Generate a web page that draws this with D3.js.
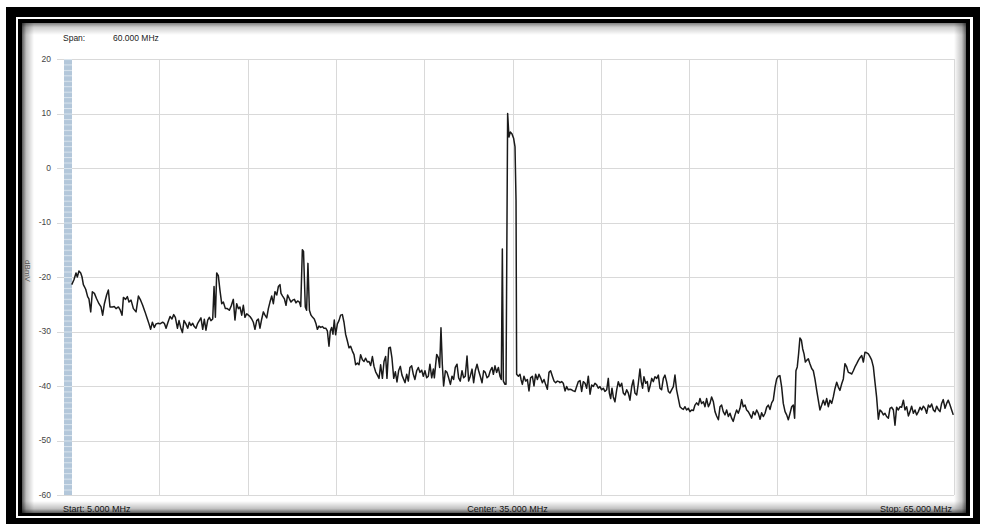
<!DOCTYPE html>
<html><head><meta charset="utf-8">
<script src="https://cdn.jsdelivr.net/npm/d3@7"></script>
<style>body{margin:0;background:#fff}svg{display:block}text{font-family:"Liberation Sans",Arial,sans-serif}</style>
</head><body><svg id="c" width="981" height="528"></svg>
<script>
// ---- data ----
const yTicks = [20, 10, 0, -10, -20, -30, -40, -50, -60];
const xGridMHz = [5, 11, 17, 23, 29, 35, 41, 47, 53, 59, 65];
const spanText = ["Span:", "60.000 MHz"];
const freqLabels = ["Start: 5.000 MHz", "Center: 35.000 MHz", "Stop: 65.000 MHz"];
const yTitle = "dBmV";
// sweep: [frequency MHz, level dBmV]
const sweepLow = [[5.05,-21.4],[5.20,-20.5],[5.34,-19.25],[5.43,-20],[5.54,-18.9],[5.66,-19.25],[5.75,-20],[5.84,-21.4],[6.00,-22.25],[6.13,-23.6],[6.22,-24],[6.34,-26.4],[6.45,-22.7],[6.59,-23],[6.74,-24],[6.90,-24.9],[7.04,-25.5],[7.15,-27],[7.27,-24.9],[7.42,-23.3],[7.54,-22.4],[7.65,-25.5],[7.81,-25.5],[7.94,-25.4],[8.06,-25.8],[8.22,-25.5],[8.35,-26.1],[8.47,-27],[8.56,-23.75],[8.71,-24.1],[8.83,-23.6],[8.94,-24.6],[9.08,-24.25],[9.24,-25.8],[9.42,-26.4],[9.58,-23.5],[9.73,-24.25],[9.87,-25.2],[10.03,-26.4],[10.19,-27.7],[10.30,-28.6],[10.41,-29.6],[10.53,-28.3],[10.66,-29.25],[10.78,-28.6],[10.93,-28.5],[11.05,-28.6],[11.23,-28.3],[11.34,-28.5],[11.46,-29.4],[11.59,-28.3],[11.73,-27.25],[11.86,-27.7],[11.98,-26.9],[12.09,-27.4],[12.23,-29.4],[12.34,-28],[12.45,-29.25],[12.57,-30.2],[12.68,-28],[12.81,-28.6],[12.93,-29.4],[13.04,-28.3],[13.15,-28.9],[13.27,-28.5],[13.38,-29.1],[13.49,-29.4],[13.61,-28.5],[13.72,-28],[13.83,-27.5],[13.95,-29.6],[14.06,-27.75],[14.17,-29.75],[14.29,-27.9],[14.40,-27.4],[14.51,-28],[14.63,-27.7],[14.72,-21.75],[14.81,-27.4],[14.90,-19.25],[15.01,-19.75],[15.12,-22.4],[15.24,-24.9],[15.35,-24.6],[15.49,-25.8],[15.62,-25.8],[15.76,-26.1],[15.90,-25.2],[16.03,-24.1],[16.14,-27.9],[16.26,-24.9]];
const sweepMidLow = [[16.37,-25.8],[16.48,-25.5],[16.60,-27],[16.71,-25.2],[16.82,-27.4],[16.94,-26.75],[17.05,-27],[17.16,-27.25],[17.28,-27.7],[17.39,-28.3],[17.50,-29.6],[17.62,-28],[17.73,-27.7],[17.84,-29.4],[17.96,-27.7],[18.07,-26.4],[18.18,-27],[18.30,-27.5],[18.41,-25.8],[18.52,-24.6],[18.64,-23.5],[18.75,-24.9],[18.86,-22.7],[18.98,-23.3],[19.09,-21.75],[19.20,-21.4],[19.27,-23],[19.38,-23.5],[19.50,-24],[19.61,-25.2],[19.72,-23.3],[19.84,-24],[19.95,-24.6],[20.06,-24.25],[20.18,-24.1],[20.29,-24.75],[20.40,-24.4],[20.52,-24.6],[20.61,-25.4],[20.72,-15],[20.80,-15.3],[20.92,-25.5],[21.01,-26.1],[21.10,-17.5],[21.20,-26.1],[21.31,-27],[21.42,-27.4],[21.53,-27.7],[21.65,-28.6],[21.74,-29.6],[21.85,-29],[21.97,-29.25],[22.08,-29.1],[22.19,-29.4],[22.31,-29.4],[22.42,-29.9],[22.53,-32.7],[22.62,-29.9],[22.71,-29.25],[22.80,-30.5],[22.89,-27.9],[22.98,-30.6],[23.10,-28.6],[23.21,-28],[23.32,-27],[23.44,-26.9],[23.55,-28.3],[23.66,-30.5],[23.78,-31.75],[23.89,-33],[24.00,-32.7],[24.12,-33.6],[24.23,-34.25],[24.34,-36.1],[24.46,-35.8],[24.57,-36.1],[24.68,-34.25],[24.80,-35.2],[24.91,-35.5],[25.02,-34.9],[25.14,-35.6],[25.25,-35.5],[25.36,-36.25],[25.48,-34.6],[25.59,-36.4],[25.70,-37.4],[25.82,-38],[25.93,-38.6],[26.04,-36.1],[26.16,-38.6],[26.27,-35.5],[26.38,-34.6],[26.47,-38.6],[26.59,-33],[26.70,-32.9],[26.81,-34.9],[26.93,-38.6],[27.04,-37.4],[27.15,-39.25],[27.27,-37.1],[27.38,-36.4],[27.49,-38]];
const sweepMid = [[27.70,-39.4],[27.81,-37.85],[27.92,-39.1],[28.03,-36.6],[28.15,-36.3],[28.26,-37.85],[28.37,-38.8],[28.49,-37.2],[28.60,-36.6],[28.71,-37.5],[28.83,-37.1],[28.94,-38.2],[29.05,-37.2],[29.17,-38.5],[29.28,-38.2],[29.39,-36],[29.51,-38.5],[29.62,-36.9],[29.69,-38.5],[29.78,-36],[29.85,-34.2],[29.96,-34.8],[30.05,-36.6],[30.14,-29.3],[30.23,-36],[30.32,-40],[30.44,-37.2],[30.55,-37.5],[30.66,-38.5],[30.78,-39.7],[30.89,-38.2],[31.00,-38.8],[31.11,-36.6],[31.23,-36],[31.34,-38.5],[31.45,-39.1],[31.57,-37.2],[31.68,-38.5],[31.79,-38.2],[31.91,-34.5],[32.02,-39.1],[32.13,-38.2],[32.25,-36.9],[32.36,-39.4],[32.47,-37.2],[32.59,-36],[32.70,-37.2],[32.81,-38.2],[32.93,-39.4],[33.04,-37.2],[33.15,-37.5],[33.27,-38.5],[33.38,-38.2],[33.49,-37.2],[33.61,-36.6],[33.70,-37.85],[33.81,-36.3],[33.92,-37.5],[34.04,-36.6],[34.15,-38.2],[34.24,-38.8],[34.31,-14.85],[34.38,-39.1],[34.49,-39.7],[34.56,-39.7],[34.67,10],[34.76,5.7],[34.85,6.6],[34.96,6.3],[35.08,5.4],[35.17,3.9],[35.24,-6],[35.28,-37.85],[35.40,-38.2],[35.51,-37.85],[35.58,-38.8],[35.67,-39.7],[35.78,-38.2],[35.89,-39.1],[36.01,-38.8],[36.12,-40.9],[36.23,-38.5],[36.35,-38.2],[36.46,-40],[36.57,-37.85],[36.69,-38.8],[36.80,-37.85],[36.91,-38.5],[37.03,-39.4],[37.14,-38.8],[37.25,-39.7],[37.37,-40.6],[37.48,-37.5],[37.59,-37.2],[37.71,-38.2],[37.82,-39.1],[37.93,-39.4],[38.05,-39.1],[38.16,-39.2]];
const sweepMidHigh = [[38.23,-39.4],[38.34,-39.2],[38.45,-39.5],[38.57,-40.9],[38.68,-40.1],[38.79,-40.7],[38.91,-40.6],[39.02,-40.7],[39.13,-40.9],[39.25,-41],[39.36,-40.1],[39.47,-39.2],[39.59,-39],[39.70,-41],[39.81,-39.2],[39.93,-39.5],[40.04,-40.4],[40.15,-38.2],[40.27,-41.5],[40.38,-39.8],[40.49,-40.1],[40.60,-39.5],[40.72,-39.8],[40.83,-40.4],[40.94,-40.1],[41.06,-40.7],[41.17,-40.4],[41.28,-41],[41.40,-40.7],[41.51,-38.6],[41.58,-41.3],[41.67,-42.3],[41.76,-40.4],[41.85,-42],[41.96,-42.9],[42.08,-40.7],[42.19,-39.2],[42.30,-40.1],[42.42,-39.5],[42.53,-41.3],[42.64,-41.65],[42.76,-40.7],[42.87,-41.3],[42.98,-42.6],[43.10,-40.1],[43.21,-38.9],[43.32,-41.3],[43.44,-41.65],[43.55,-39.5],[43.66,-36.9],[43.75,-39.2],[43.84,-40.4],[43.93,-38.3],[44.05,-39.5],[44.16,-39.2],[44.25,-41],[44.34,-40.1],[44.46,-38.6],[44.57,-39.2],[44.68,-38.3],[44.80,-38.6],[44.91,-38],[45.02,-40.4],[45.13,-40.7],[45.25,-38.6],[45.36,-38],[45.47,-39.2],[45.59,-41],[45.70,-41.3],[45.81,-40.7],[45.93,-40.1],[46.04,-38],[46.15,-40.7],[46.27,-42.3],[46.38,-43.8],[46.49,-44.1],[46.61,-44.3],[46.72,-43.8],[46.83,-44.4],[46.95,-44.1],[47.06,-44.7],[47.17,-44.4],[47.29,-44.5],[47.40,-43.5],[47.51,-43.1],[47.63,-43.5],[47.74,-42.3],[47.85,-43.2],[47.97,-42.9],[48.08,-43.8],[48.19,-42.3],[48.31,-43.8],[48.42,-43.2],[48.53,-42],[48.65,-42.9],[48.76,-44.7],[48.87,-45.5],[48.99,-46.2],[49.10,-43.8],[49.21,-43.5],[49.32,-44.7],[49.44,-45.3],[49.55,-44.4]];
const sweepHigh = [[49.67,-45.6],[49.78,-45],[49.89,-45.9],[50.00,-46.5],[50.12,-45.3],[50.23,-44.4],[50.34,-45],[50.46,-44.1],[50.57,-42.5],[50.68,-43.8],[50.80,-43.5],[50.91,-44.4],[51.02,-44.7],[51.14,-45.3],[51.25,-45.9],[51.36,-44.7],[51.48,-45.3],[51.59,-44.4],[51.70,-45],[51.82,-46.1],[51.93,-44.9],[52.04,-45.6],[52.16,-45],[52.27,-43.9],[52.38,-43.5],[52.50,-44.3],[52.61,-43.1],[52.72,-42.6],[52.84,-40.2],[52.95,-38.7],[53.06,-38.2],[53.17,-38.1],[53.29,-40.2],[53.40,-43.2],[53.52,-44.7],[53.63,-45.3],[53.74,-46.2],[53.86,-45],[53.97,-43.8],[54.08,-43.5],[54.17,-45.9],[54.26,-37.2],[54.35,-36.5],[54.44,-34.1],[54.53,-31.2],[54.63,-31.6],[54.72,-33.2],[54.81,-34.1],[54.90,-35.6],[54.99,-35.3],[55.10,-35],[55.21,-35.9],[55.33,-36.8],[55.44,-37.2],[55.55,-38.7],[55.67,-40.8],[55.78,-42.6],[55.89,-44.4],[56.01,-43.5],[56.12,-42.6],[56.23,-43.5],[56.35,-42.3],[56.46,-43.8],[56.57,-42.6],[56.69,-43.2],[56.80,-42],[56.91,-40.5],[57.03,-39.3],[57.14,-40.2],[57.25,-40.8],[57.37,-39.6],[57.48,-38.7],[57.59,-35.9],[57.71,-36.5],[57.82,-37.5],[57.93,-37.6],[58.05,-37.8],[58.16,-37.2],[58.27,-36.5],[58.39,-35.9],[58.50,-35.3],[58.61,-34.8],[58.73,-34.4],[58.84,-35.6],[58.95,-33.8],[59.07,-33.9],[59.18,-34.1],[59.29,-34.6],[59.40,-35.2],[59.52,-36.5],[59.63,-39.3],[59.74,-42],[59.86,-46.1],[59.97,-44.4],[60.08,-44.7],[60.20,-45.3],[60.31,-45],[60.42,-45.6],[60.54,-45.9],[60.65,-44.1],[60.76,-43.9],[60.88,-44.4],[60.99,-47.2],[61.10,-43.9],[61.22,-44.4],[61.33,-43.8],[61.44,-43.9],[61.56,-42.6],[61.67,-44.4],[61.78,-43.8],[61.90,-45.5],[62.01,-44.7],[62.12,-43.7],[62.24,-45],[62.35,-44.4],[62.46,-45.3],[62.58,-44.7],[62.69,-43.9],[62.80,-44.4],[62.92,-43.7],[63.03,-44.1],[63.14,-45],[63.26,-43.5],[63.37,-43.9],[63.48,-43.3],[63.60,-44.4],[63.71,-44.7],[63.82,-43.7],[63.93,-44.3],[64.05,-44.7],[64.16,-43.2],[64.27,-42.5],[64.39,-44.1],[64.50,-43.2],[64.61,-42.6],[64.73,-43.5],[64.84,-44.4],[64.95,-45.3]];
const sweep = [].concat(sweepLow, sweepMidLow, sweepMid, sweepMidHigh, sweepHigh);

// ---- drawing ----
const svg = d3.select("#c");
const defs = svg.append("defs");

// frame
svg.append("rect").attr("x", 6).attr("y", 7).attr("width", 974).attr("height", 517).attr("fill", "#000");
svg.append("rect").attr("x", 16).attr("y", 17).attr("width", 957).attr("height", 501).attr("fill", "#fff");
svg.append("rect").attr("x", 18).attr("y", 19).attr("width", 952).attr("height", 497).attr("fill", "#000");
const inner = {x0: 22, y0: 23, x1: 966, y1: 513};
svg.append("rect").attr("x", inner.x0).attr("y", inner.y0).attr("width", inner.x1 - inner.x0).attr("height", inner.y1 - inner.y0).attr("fill", "#fff");

// inset shadow gradients
function grad(id, x1, y1, x2, y2, a) {
  const g = defs.append("linearGradient").attr("id", id).attr("x1", x1).attr("y1", y1).attr("x2", x2).attr("y2", y2);
  g.append("stop").attr("offset", "0").attr("stop-color", "#000").attr("stop-opacity", a);
  g.append("stop").attr("offset", "0.35").attr("stop-color", "#000").attr("stop-opacity", a * 0.38);
  g.append("stop").attr("offset", "1").attr("stop-color", "#000").attr("stop-opacity", 0);
}
grad("gL", 0, 0, 1, 0, 0.65); grad("gR", 1, 0, 0, 0, 0.6); grad("gT", 0, 0, 0, 1, 0.5); grad("gB", 0, 1, 0, 0, 0.65);
const sh = 12;
svg.append("rect").attr("x", inner.x0).attr("y", inner.y0).attr("width", sh).attr("height", inner.y1 - inner.y0).attr("fill", "url(#gL)");
svg.append("rect").attr("x", inner.x1 - sh).attr("y", inner.y0).attr("width", sh).attr("height", inner.y1 - inner.y0).attr("fill", "url(#gR)");
svg.append("rect").attr("x", inner.x0).attr("y", inner.y0).attr("width", inner.x1 - inner.x0).attr("height", sh).attr("fill", "url(#gT)");
svg.append("rect").attr("x", inner.x0).attr("y", inner.y1 - sh).attr("width", inner.x1 - inner.x0).attr("height", sh).attr("fill", "url(#gB)");

// scales
const x = d3.scaleLinear().domain([5, 65]).range([71, 954]);
const y = d3.scaleLinear().domain([-60, 20]).range([495, 59]);

// grid
const gGrid = svg.append("g");
gGrid.selectAll("line.h").data(yTicks).join("line")
  .attr("x1", 57).attr("x2", x(65)).attr("y1", d => Math.round(y(d)) + 0.5).attr("y2", d => Math.round(y(d)) + 0.5)
  .attr("stroke", "#d9d9d9").attr("stroke-width", 1);
gGrid.selectAll("line.v").data(xGridMHz.slice(1)).join("line")
  .attr("x1", d => Math.round(x(d)) + 0.5).attr("x2", d => Math.round(x(d)) + 0.5)
  .attr("y1", y(20)).attr("y2", y(-60))
  .attr("stroke", "#d9d9d9").attr("stroke-width", 1);

// left striped band
const pat = defs.append("pattern").attr("id", "band").attr("patternUnits", "userSpaceOnUse")
  .attr("x", 0).attr("y", y(20)).attr("width", 8).attr("height", y(0) - y(1));
pat.append("rect").attr("width", 8).attr("height", y(0) - y(1)).attr("fill", "#b3c7da");
pat.append("rect").attr("width", 8).attr("height", 1).attr("fill", "#dbe5ee");
svg.append("rect").attr("x", 64).attr("y", y(20)).attr("width", 8).attr("height", y(-60) - y(20)).attr("fill", "url(#band)");

// y tick labels
svg.append("g").selectAll("text").data(yTicks).join("text")
  .attr("x", 51).attr("y", d => y(d)).attr("dy", "0.35em").attr("text-anchor", "end")
  .attr("font-size", 8.5).attr("fill", "#444").text(d => d);

// y title
svg.append("text").attr("transform", `translate(28,${(y(20) + y(-60)) / 2 - 6}) rotate(90)`)
  .attr("text-anchor", "middle").attr("dy", "0.35em").attr("font-size", 8).attr("fill", "#555").text(yTitle);

// header
svg.append("text").attr("x", 63).attr("y", 41).attr("font-size", 8.5).attr("fill", "#222").text(spanText[0]);
svg.append("text").attr("x", 113).attr("y", 41).attr("font-size", 8.5).attr("fill", "#222").text(spanText[1]);

// footer freq labels
svg.append("text").attr("x", 63).attr("y", 512).attr("font-size", 9).attr("fill", "#111").text(freqLabels[0]);
svg.append("text").attr("x", x(35) - 5).attr("y", 512).attr("text-anchor", "middle").attr("font-size", 9).attr("fill", "#111").text(freqLabels[1]);
svg.append("text").attr("x", 952).attr("y", 512).attr("text-anchor", "end").attr("font-size", 9).attr("fill", "#111").text(freqLabels[2]);

// trace
const line = d3.line().x(d => x(d[0])).y(d => y(d[1]));
svg.append("path").datum(sweep).attr("d", line).attr("fill", "none")
  .attr("stroke", "#1a1a1a").attr("stroke-width", 1.5).attr("stroke-linejoin", "round");
</script></body></html>
